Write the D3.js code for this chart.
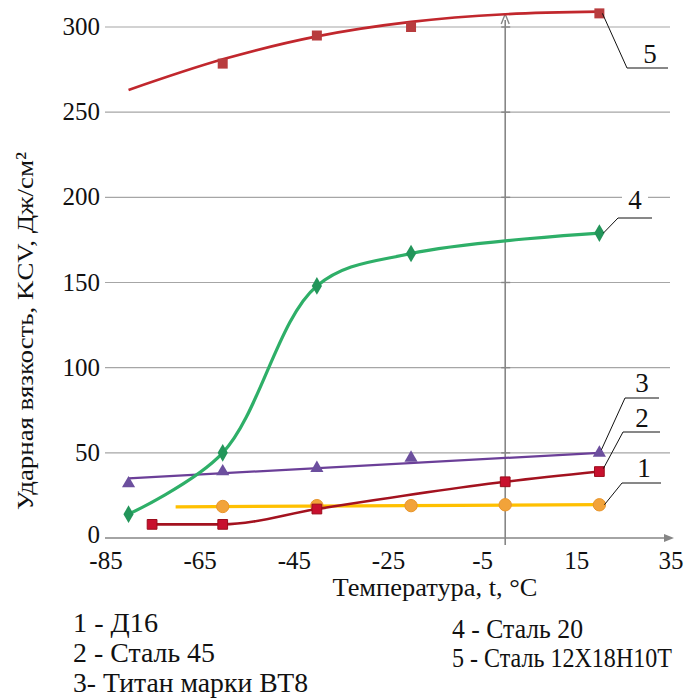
<!DOCTYPE html>
<html><head><meta charset="utf-8">
<script src="https://cdn.jsdelivr.net/npm/d3@7"></script>
<style>body{margin:0;background:#fff}svg{display:block}</style>
</head><body>
<script>
// ---- data ----
const xTicks = [-85,-65,-45,-25,-5,15,35];
const yTicks = [0,50,100,150,200,250,300];

const s1X = [-60,-40,-20,0,20];          // Д16
const s1Y = [18.5,19,19,19.5,19.5];
const s1TrendX = [-70,20];
const s1TrendY = [18.3,19.6];

const s2X = [-75,-60,-40,0,20];          // Сталь 45
const s2Y = [8,8,17,33,39];

const s3X = [-80,-60,-40,-20,20];        // Титан ВТ8
const s3Y = [32,39,41,47,50];
const s3TrendX = [-80,20];
const s3TrendY = [35,50];

const s4X = [-80,-60,-40,-20,20];        // Сталь 20
const s4Y = [14,50,148,167,179];

const s5X = [-60,-40,-20,20];            // Сталь 12Х18Н10Т
const s5Y = [278.5,295,300,308];
const s5TrendX = [-80,-60,-40,-20,0,20];
const s5TrendY = [263,281,294.5,303,307.5,309];

const legendLeft = ["1 - Д16","2 - Сталь 45","3- Титан марки ВТ8"];
const legendRight = ["4 - Сталь 20","5 - Сталь 12Х18Н10Т"];
const xTitle = "Температура, t, °C";
const yTitle = "Ударная вязкость, KCV, Дж/см²";

// ---- chart ----
const FONT = "\"Liberation Serif\"";
const W=685,H=700;
const svg=d3.select("body").append("svg").attr("width",W).attr("height",H);
const x=d3.scaleLinear().domain([-85,35]).range([105,670]);
const y=d3.scaleLinear().domain([0,300]).range([538,27]);
function txt(px,py,s,anchor,size,len){
  const t=svg.append("text").attr("x",px).attr("y",py)
    .attr("font-family",FONT).attr("fill","#111")
    .attr("text-anchor",anchor||"start").attr("font-size",size||25).text(s);
  if(len) t.attr("textLength",len).attr("lengthAdjust","spacingAndGlyphs");
  return t;
}
// gridlines
svg.append("g").selectAll("line").data(yTicks.filter(d=>d>0)).join("line")
  .attr("x1",x(-85)).attr("x2",670).attr("y1",d=>y(d)).attr("y2",d=>y(d))
  .attr("stroke","#a6a6a6").attr("stroke-width",1.2);
// x axis
svg.append("line").attr("x1",x(-85)).attr("x2",668).attr("y1",y(0)).attr("y2",y(0))
  .attr("stroke","#868686").attr("stroke-width",1.6);
svg.append("path").attr("d",`M${674},${y(0)} L${664},${y(0)-4} L${664},${y(0)+4} Z`).attr("fill","#868686");
// vertical axis at t=0
svg.append("line").attr("x1",x(0)).attr("x2",x(0)).attr("y1",y(0)+7).attr("y2",20)
  .attr("stroke","#868686").attr("stroke-width",1.6);
svg.append("path").attr("d",`M${x(0)},14 L${x(0)-4},24 M${x(0)},14 L${x(0)+4},24`).attr("stroke","#868686").attr("stroke-width",1.4).attr("fill","none");
svg.append("g").selectAll("line").data(yTicks.filter(d=>d>0)).join("line")
  .attr("x1",x(0)-4).attr("x2",x(0)+5).attr("y1",d=>y(d)).attr("y2",d=>y(d))
  .attr("stroke","#868686").attr("stroke-width",1.4);

// tick labels
yTicks.forEach(d=>txt(100,y(d)+(d===0?5:8),String(d),"end",25));
xTicks.forEach(d=>txt(x(d)+1,569,String(d),"middle",25));
// axis titles
txt(435,596,xTitle,"middle",25,205);
svg.append("text").attr("transform","translate(33,331) rotate(-90)").attr("text-anchor","middle")
  .attr("font-family",FONT).attr("fill","#111")
  .attr("font-size",24).attr("textLength",358).attr("lengthAdjust","spacingAndGlyphs").text(yTitle);

function zip(a,b){return a.map((v,i)=>[v,b[i]]);}
const lineGen=c=>d3.line().x(d=>x(d[0])).y(d=>y(d[1])).curve(c);
function drawLine(xs,ys,color,w,curve){
  svg.append("path").datum(zip(xs,ys)).attr("d",lineGen(curve||d3.curveLinear))
    .attr("fill","none").attr("stroke",color).attr("stroke-width",w).attr("stroke-linejoin","round");
}
function drawMarks(xs,ys,type,size,fill,stroke){
  svg.append("g").selectAll("path").data(zip(xs,ys)).join("path")
    .attr("transform",d=>`translate(${x(d[0])},${y(d[1])})`)
    .attr("d",d3.symbol().type(type).size(size))
    .attr("fill",fill).attr("stroke",stroke||"none").attr("stroke-width",1);
}
// series 1
drawLine(s1TrendX,s1TrendY,"#ffc000",3.2);
drawMarks(s1X,s1Y,d3.symbolCircle,120,"#f2a33a","#e8952a");
// series 2
drawLine(s2X,s2Y,"#a3121f",2.6,d3.curveMonotoneX);
drawMarks(s2X,s2Y,d3.symbolSquare,95,"#c8102e","#9b0d1c");
// series 3
drawLine(s3TrendX,s3TrendY,"#6b3f98",2.2);
drawMarks(s3X,s3Y,d3.symbolTriangle,75,"#6c4f9e");
// series 4
drawLine(s4X,s4Y,"#2eaf68",3.2,d3.curveCatmullRom.alpha(0.5));
drawMarks(s4X,s4Y,d3.symbolDiamond,90,"#23955a");
// series 5
drawLine(s5TrendX,s5TrendY,"#c1272d",2.6,d3.curveCatmullRom.alpha(0.5));
drawMarks(s5X,s5Y,d3.symbolSquare,100,"#b83c3e");

// data labels with leaders
function leader(pts){
  svg.append("path").attr("d",d3.line()(pts)).attr("fill","none").attr("stroke","#111").attr("stroke-width",1);
}
leader([[x(20)+3,y(308)],[627,68],[668,68]]);
txt(650,63,"5","middle",27);
svg.append("rect").attr("x",622).attr("y",187).attr("width",26).attr("height",24).attr("fill","#fff");
leader([[x(20)+4,y(179)],[618,218],[652,218]]);
txt(635,209,"4","middle",27);
leader([[x(20)+2,y(50)-3],[625,398],[659,398]]);
txt(642,392,"3","middle",27);
leader([[x(20)+4,y(39)-3],[623,432],[660,432]]);
txt(642,427,"2","middle",27);
leader([[x(20)+5,y(19.5)],[622,483],[661,483]]);
txt(644,477,"1","middle",27);

// legend
const legLeftLen=[85,142,235], legRightLen=[131,220];
legendLeft.forEach((s,i)=>txt(73,632+i*30,s,"start",27,legLeftLen[i]));
legendRight.forEach((s,i)=>txt(452,638+i*29,s,"start",27,legRightLen[i]));
</script>
</body></html>
